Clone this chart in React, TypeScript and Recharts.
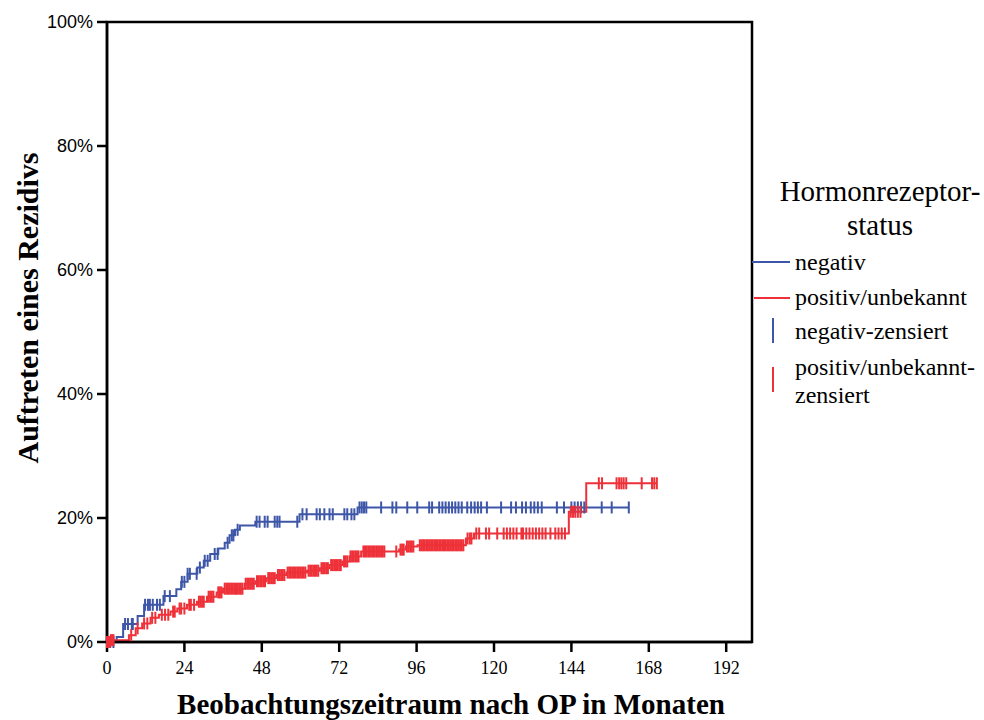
import React from 'react';
import {
  ComposedChart, Line, Scatter, XAxis, YAxis, ReferenceArea
} from 'recharts';

// Kumulative Rezidivrate (Kaplan-Meier, 1 - S(t)) nach Hormonrezeptorstatus
const X_TICKS = [0, 24, 48, 72, 96, 120, 144, 168, 192];
const Y_TICKS = [0, 20, 40, 60, 80, 100];

// negativ: Ereigniszeitpunkte (Monate) und kumulativer Anteil (%)
const NEG_T = [0, 3, 5, 9.5, 11.5, 17.5, 21.5, 23, 25, 28, 30, 32, 34.5, 36.5, 38, 39.7, 41.2, 46, 59.7, 77.7, 161.8];
const NEG_PCT = [0, 0.8, 2.9, 4.2, 6.0, 7.4, 8.5, 9.7, 11.0, 12.0, 13.1, 14.2, 15.1, 16.0, 17.2, 18.1, 18.8, 19.4, 20.6, 21.7, 21.7];

// positiv/unbekannt
const POS_T = [0, 1, 6.8, 8.9, 10.9, 13.5, 16.1, 19.7, 21.8, 24.8, 27.9, 31, 34, 36, 42.7, 46, 49.4, 52.5, 55.6, 62, 66, 69, 73, 75.2, 78.8, 90.6, 92.7, 96.3, 111.3, 113.8, 143.2, 148.6, 170.5];
const POS_PCT = [0, 0.3, 1.1, 2.2, 3.0, 3.9, 4.4, 4.9, 5.4, 6.0, 6.5, 7.3, 8.0, 8.6, 9.4, 9.8, 10.3, 10.8, 11.2, 11.5, 11.9, 12.4, 13.0, 13.8, 14.6, 14.9, 15.4, 15.6, 16.7, 17.5, 21.0, 25.6, 25.6];

// zensierte Fälle (Monate)
const NEG_CENSORED = [
  0, 1, 2, 5.6, 6.5, 7.7, 8.0, 11.8, 12.7, 13.3, 14.2, 15.5, 16.4, 17.9, 19.5, 23.2, 24, 25, 25.7, 27.8, 28.8,
  30.3, 31.2, 33.4, 34.3, 37.4, 38.7, 39.2, 40.5, 46.4, 47.3, 48.9, 49.8, 52, 52.8, 53.5, 59, 60.6, 61.9,
  65, 66, 67.4, 69, 70, 73.6, 74.5, 75.8, 76.7, 78.3, 79, 79.7, 80.4, 85, 88.5, 89.7, 93.1, 96.2, 99.9, 100.8,
  103, 104, 105, 106, 107, 108, 109, 110, 111.7, 112.9, 114, 115, 116, 117.8, 122.2, 125.3, 126.8, 128.7,
  129.9, 131.4, 132.5, 133.6, 134.8, 139.5, 141.7, 144, 145, 146, 147, 148, 153.4, 156.5, 161.8,
];
const POS_CENSORED = [
  0, 0.4, 0.8, 1.2, 1.6, 2, 7.5, 9.5, 11.5, 12.5, 14, 15, 17, 18, 19, 20.5, 21, 22.5, 23, 24, 25.5, 26, 27,
  28.5, 29, 29.5, 30, 31.5, 32, 32.5, 33, 34.5, 35, 35.5, 36.5, 37, 37.5, 38, 38.5, 39, 39.5, 40, 40.5, 41,
  41.5, 42, 43, 43.5, 44, 44.5, 45, 45.5, 46.5, 47, 47.5, 48, 48.5, 49, 50, 50.5, 51, 51.5, 52, 53, 53.5, 54,
  54.5, 55, 56, 56.5, 57, 57.5, 58, 58.5, 59, 59.5, 60, 60.5, 61, 61.5, 62.5, 63, 63.5, 64, 64.5, 65, 65.5,
  66.5, 67, 67.5, 68, 68.5, 69.5, 70, 70.5, 71, 71.5, 72, 72.5, 73.5, 74, 74.5, 75.5, 76, 76.5, 77, 77.5, 78,
  79.5, 80, 80.5, 81, 81.5, 82, 82.5, 83, 83.5, 84, 84.5, 85, 85.5, 86, 89.7, 91, 91.5, 92, 93, 93.5, 94,
  94.5, 95, 97, 97.5, 98, 98.5, 99, 99.5, 100, 100.5, 101, 101.5, 102, 102.5, 103, 103.5, 104, 104.5, 105,
  105.5, 106, 106.5, 107, 107.5, 108, 108.5, 109, 109.5, 110, 110.5, 111.8, 112.5, 113, 114.5, 115.4, 117.5,
  118.5, 121, 123, 124, 125, 126, 127, 128.5, 129, 130, 131, 132, 133, 134, 135, 136, 137.5, 139, 140, 141,
  142, 143.8, 144.5, 145.2, 146, 146.8, 152.5, 153.5, 158, 158.8, 159.5, 160.2, 161, 165.8, 169, 169.7, 170.5,
];

const BLUE = '#3d56a7';
const RED = '#ee3139';

const toSteps = (ts: number[], ps: number[]) => ts.map((t, i) => ({ t, y: ps[i] }));
const valueAt = (ts: number[], ps: number[], t: number) => {
  let v = 0;
  ts.forEach((et, i) => { if (et <= t) v = ps[i]; });
  return v;
};
const toCensored = (cs: number[], ts: number[], ps: number[]) =>
  cs.map((t) => ({ t, y: valueAt(ts, ps, t) }));

const negSteps = toSteps(NEG_T, NEG_PCT);
const posSteps = toSteps(POS_T, POS_PCT);
const negCens = toCensored(NEG_CENSORED, NEG_T, NEG_PCT);
const posCens = toCensored(POS_CENSORED, POS_T, POS_PCT);

const censorMark = (color: string) => (props: any) => {
  const { cx, cy } = props;
  return <line x1={cx} x2={cx} y1={cy - 6} y2={cy + 6} stroke={color} strokeWidth={2} />;
};

const serif = 'Liberation Serif';
const sans = 'Liberation Sans';

export default function App() {
  return (
    <div style={{ position: 'relative', width: 984, height: 720, background: '#fff' }}>
      <style>{'body{margin:0}'}</style>
      <ComposedChart
        width={984}
        height={720}
        margin={{ top: 22, right: 232, bottom: 48, left: 0 }}
      >
        <XAxis
          type="number"
          dataKey="t"
          domain={[0, 200]}
          ticks={X_TICKS}
          height={30}
          tickSize={10}
          tickMargin={9}
          stroke="#000"
          strokeWidth={2.5}
          tick={{ fontFamily: serif, fontSize: 18, fill: '#000' }}
        />
        <YAxis
          type="number"
          dataKey="y"
          domain={[0, 100]}
          ticks={Y_TICKS}
          width={107}
          tickSize={10}
          tickMargin={4}
          stroke="#000"
          strokeWidth={2.5}
          tickFormatter={(v) => `${v}%`}
          tick={{ fontFamily: sans, fontSize: 18, fill: '#000' }}
        />
        <ReferenceArea x1={0} x2={200} y1={0} y2={100} fill="none" stroke="#000" strokeWidth={2.5} />
        <Line data={negSteps} dataKey="y" type="stepAfter" stroke={BLUE} strokeWidth={2} dot={false} isAnimationActive={false} />
        <Scatter data={negCens} shape={censorMark(BLUE)} isAnimationActive={false} />
        <Line data={posSteps} dataKey="y" type="stepAfter" stroke={RED} strokeWidth={2} dot={false} isAnimationActive={false} />
        <Scatter data={posCens} shape={censorMark(RED)} isAnimationActive={false} />
      </ComposedChart>

      {/* Achsentitel */}
      <div style={{
        position: 'absolute', left: 28, top: 308, transform: 'translate(-50%, -50%) rotate(-90deg)',
        whiteSpace: 'nowrap', fontFamily: serif, fontWeight: 'bold', fontSize: 30, color: '#000',
      }}>
        Auftreten eines Rezidivs
      </div>
      <div style={{
        position: 'absolute', left: 451, top: 704, transform: 'translate(-50%, -50%)',
        whiteSpace: 'nowrap', fontFamily: serif, fontWeight: 'bold', fontSize: 29, color: '#000',
      }}>
        Beobachtungszeitraum nach OP in Monaten
      </div>

      {/* Legende */}
      <div style={{ position: 'absolute', left: 770, top: 174, width: 220, textAlign: 'center', fontFamily: serif, fontSize: 29, lineHeight: '34px', color: '#000' }}>
        Hormonrezeptor-<br />status
      </div>
      <svg style={{ position: 'absolute', left: 0, top: 0 }} width={984} height={720} pointerEvents="none">
        <line x1={752} x2={790} y1={262} y2={262} stroke={BLUE} strokeWidth={2} />
        <line x1={754} x2={790} y1={298} y2={298} stroke={RED} strokeWidth={2} />
        <line x1={773} x2={773} y1={318} y2={343} stroke={BLUE} strokeWidth={2} />
        <line x1={773} x2={773} y1={367} y2={392} stroke={RED} strokeWidth={2} />
      </svg>
      <div style={{ position: 'absolute', left: 795, top: 248, fontFamily: serif, fontSize: 24, lineHeight: '28px', color: '#000', whiteSpace: 'nowrap' }}>
        <div style={{ height: 35 }}>negativ</div>
        <div style={{ height: 34 }}>positiv/unbekannt</div>
        <div style={{ height: 36 }}>negativ-zensiert</div>
        <div>positiv/unbekannt-<br />zensiert</div>
      </div>
    </div>
  );
}
